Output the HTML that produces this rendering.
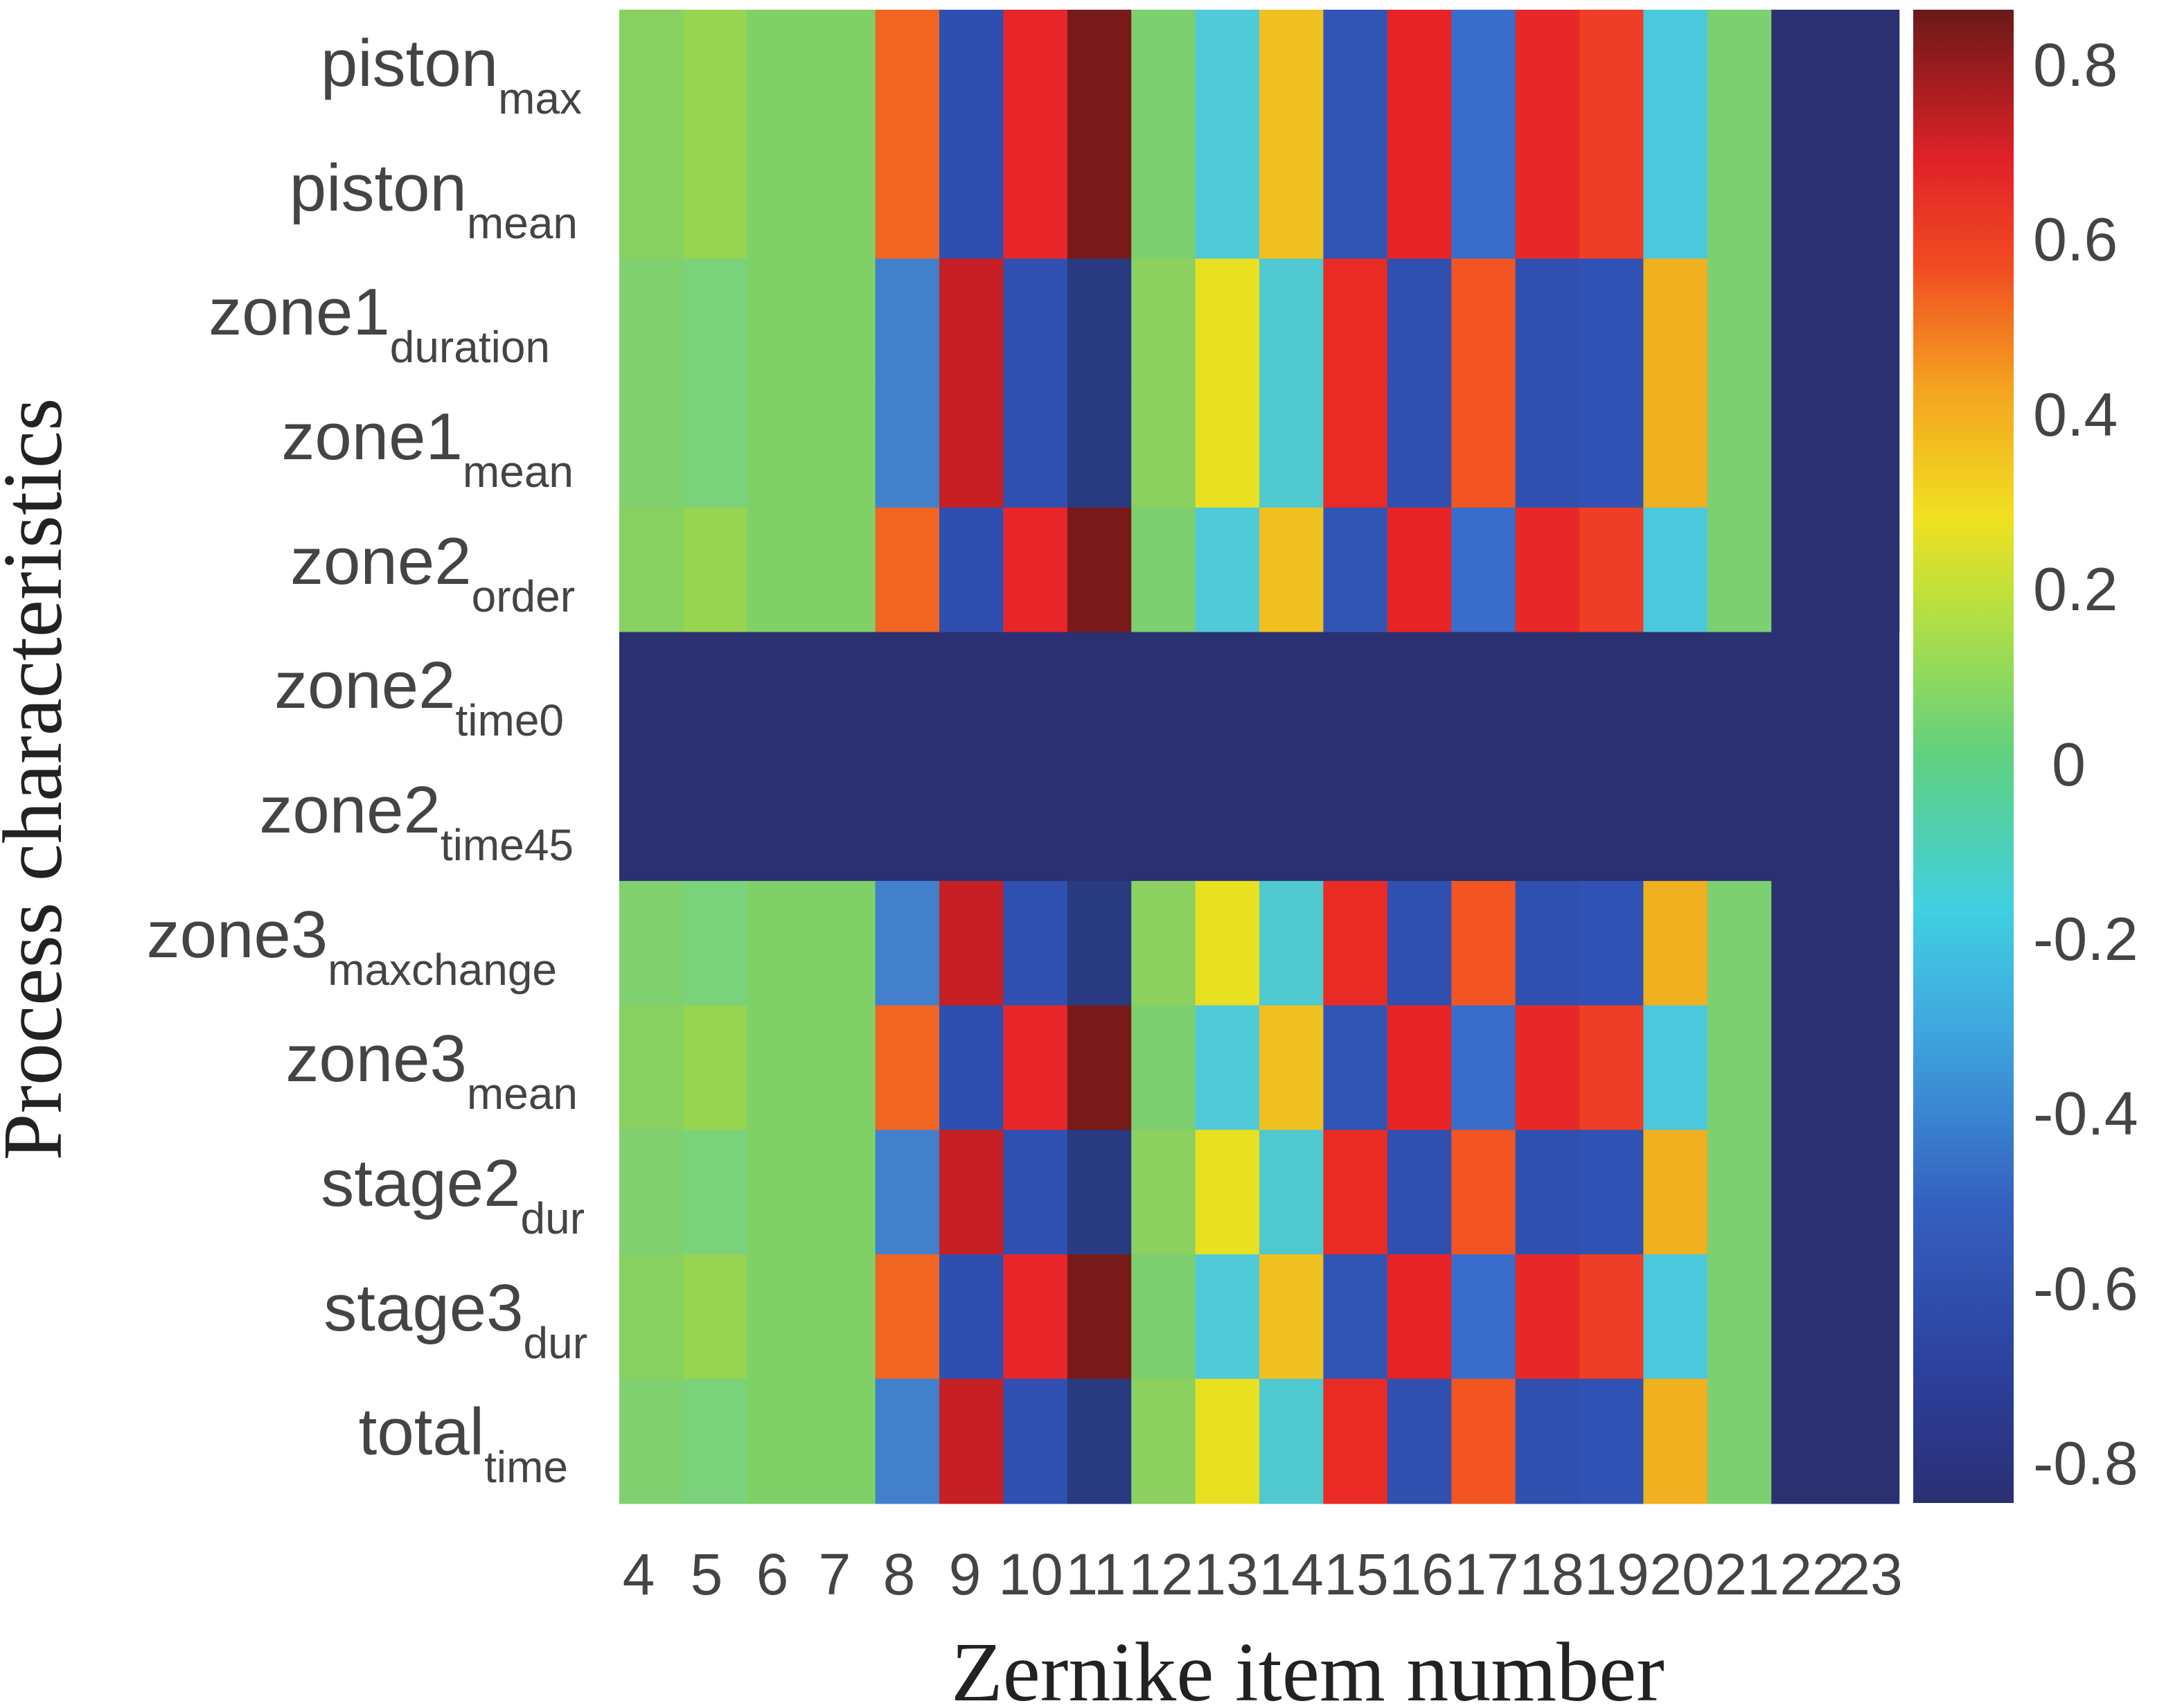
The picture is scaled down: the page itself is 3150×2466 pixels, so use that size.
<!DOCTYPE html>
<html><head><style>html,body{margin:0;padding:0;background:#fff}svg{display:block}</style></head><body>
<svg xmlns="http://www.w3.org/2000/svg" width="3150" height="2466" viewBox="0 0 3150 2466">
<defs>
<linearGradient id="jet" x1="0" y1="1" x2="0" y2="0">
<stop offset="0" stop-color="#2b2f72"/>
<stop offset="0.08" stop-color="#2c3e9a"/>
<stop offset="0.2" stop-color="#3560c0"/>
<stop offset="0.32" stop-color="#3fa8e0"/>
<stop offset="0.4" stop-color="#40d0e0"/>
<stop offset="0.5" stop-color="#60d080"/>
<stop offset="0.6" stop-color="#b8e040"/>
<stop offset="0.66" stop-color="#f0e020"/>
<stop offset="0.75" stop-color="#f5a020"/>
<stop offset="0.83" stop-color="#f04a22"/>
<stop offset="0.9" stop-color="#e02228"/>
<stop offset="1" stop-color="#6a1818"/>
</linearGradient>
<g id="rA">
<rect x="894" y="0" width="93.4" height="180.7" fill="#88d060"/>
<rect x="986.4" y="0" width="93.4" height="180.7" fill="#96d452"/>
<rect x="1078.8" y="0" width="93.4" height="180.7" fill="#80d068"/>
<rect x="1171.2" y="0" width="93.4" height="180.7" fill="#80d068"/>
<rect x="1263.6" y="0" width="93.4" height="180.7" fill="#f06522"/>
<rect x="1356" y="0" width="93.4" height="180.7" fill="#2f4fb0"/>
<rect x="1448.4" y="0" width="93.4" height="180.7" fill="#e8262a"/>
<rect x="1540.8" y="0" width="93.4" height="180.7" fill="#781a1a"/>
<rect x="1633.2" y="0" width="93.4" height="180.7" fill="#7cd070"/>
<rect x="1725.6" y="0" width="93.4" height="180.7" fill="#50cad8"/>
<rect x="1818" y="0" width="93.4" height="180.7" fill="#f0c020"/>
<rect x="1910.4" y="0" width="93.4" height="180.7" fill="#3155b5"/>
<rect x="2002.8" y="0" width="93.4" height="180.7" fill="#e82325"/>
<rect x="2095.2" y="0" width="93.4" height="180.7" fill="#3a6ccc"/>
<rect x="2187.6" y="0" width="93.4" height="180.7" fill="#e82828"/>
<rect x="2280" y="0" width="93.4" height="180.7" fill="#ee3e25"/>
<rect x="2372.4" y="0" width="93.4" height="180.7" fill="#4cc8dc"/>
<rect x="2464.8" y="0" width="93.4" height="180.7" fill="#7cd070"/>
<rect x="2557.2" y="0" width="185" height="180.7" fill="#2a3070"/>
</g>
<g id="rB">
<rect x="894" y="0" width="93.4" height="180.7" fill="#80d070"/>
<rect x="986.4" y="0" width="93.4" height="180.7" fill="#7ad27a"/>
<rect x="1078.8" y="0" width="93.4" height="180.7" fill="#80d068"/>
<rect x="1171.2" y="0" width="93.4" height="180.7" fill="#80d068"/>
<rect x="1263.6" y="0" width="93.4" height="180.7" fill="#4280cc"/>
<rect x="1356" y="0" width="93.4" height="180.7" fill="#c62025"/>
<rect x="1448.4" y="0" width="93.4" height="180.7" fill="#2f50b0"/>
<rect x="1540.8" y="0" width="93.4" height="180.7" fill="#283a80"/>
<rect x="1633.2" y="0" width="93.4" height="180.7" fill="#8cd060"/>
<rect x="1725.6" y="0" width="93.4" height="180.7" fill="#e8e020"/>
<rect x="1818" y="0" width="93.4" height="180.7" fill="#50c8d0"/>
<rect x="1910.4" y="0" width="93.4" height="180.7" fill="#ea2a25"/>
<rect x="2002.8" y="0" width="93.4" height="180.7" fill="#3050b0"/>
<rect x="2095.2" y="0" width="93.4" height="180.7" fill="#f25522"/>
<rect x="2187.6" y="0" width="93.4" height="180.7" fill="#3050b0"/>
<rect x="2280" y="0" width="93.4" height="180.7" fill="#3052b4"/>
<rect x="2372.4" y="0" width="93.4" height="180.7" fill="#f0b020"/>
<rect x="2464.8" y="0" width="93.4" height="180.7" fill="#7cd070"/>
<rect x="2557.2" y="0" width="185" height="180.7" fill="#2a3070"/>
</g>
</defs>
<use href="#rA" y="14"/>
<use href="#rA" y="193.7"/>
<use href="#rB" y="373.4"/>
<use href="#rB" y="553.1"/>
<use href="#rA" y="732.8"/>
<rect x="894" y="912.5" width="1848" height="360" fill="#2a3070"/>
<use href="#rB" y="1271.9"/>
<use href="#rA" y="1451.6"/>
<use href="#rB" y="1631.3"/>
<use href="#rA" y="1811"/>
<use href="#rB" y="1990.7"/>
<rect x="2762" y="14" width="145" height="2156" fill="url(#jet)"/>
<g font-family="Liberation Sans, sans-serif" font-size="88" fill="#444">
<text x="2935" y="124">0.8</text>
<text x="2935" y="376">0.6</text>
<text x="2935" y="629">0.4</text>
<text x="2935" y="881">0.2</text>
<text x="2962" y="1134">0</text>
<text x="2935" y="1386">-0.2</text>
<text x="2935" y="1638">-0.4</text>
<text x="2935" y="1891">-0.6</text>
<text x="2935" y="2143">-0.8</text>
</g>
<g font-family="Liberation Sans, sans-serif" fill="#444" font-size="96" text-anchor="end">
<text x="840" y="124">piston<tspan font-size="64" dy="40">max</tspan></text>
<text x="834" y="304">piston<tspan font-size="64" dy="40">mean</tspan></text>
<text x="794" y="483">zone1<tspan font-size="64" dy="40">duration</tspan></text>
<text x="828" y="663">zone1<tspan font-size="64" dy="40">mean</tspan></text>
<text x="830" y="843">zone2<tspan font-size="64" dy="40">order</tspan></text>
<text x="814" y="1022">zone2<tspan font-size="64" dy="40">time0</tspan></text>
<text x="828" y="1202">zone2<tspan font-size="64" dy="40">time45</tspan></text>
<text x="804" y="1382">zone3<tspan font-size="64" dy="40">maxchange</tspan></text>
<text x="834" y="1561">zone3<tspan font-size="64" dy="40">mean</tspan></text>
<text x="844" y="1741">stage2<tspan font-size="64" dy="40">dur</tspan></text>
<text x="848" y="1921">stage3<tspan font-size="64" dy="40">dur</tspan></text>
<text x="820" y="2100">total<tspan font-size="64" dy="40">time</tspan></text>
</g>
<g font-family="Liberation Sans, sans-serif" fill="#444" font-size="84" text-anchor="middle">
<text x="922" y="2302">4</text><text x="1020" y="2302">5</text><text x="1115" y="2302">6</text><text x="1205" y="2302">7</text>
<text x="1298" y="2302">8</text><text x="1393" y="2302">9</text><text x="1488" y="2302">10</text><text x="1582" y="2302">11</text>
<text x="1676" y="2302">12</text><text x="1770" y="2302">13</text><text x="1864" y="2302">14</text><text x="1958" y="2302">15</text>
<text x="2052" y="2302">16</text><text x="2146" y="2302">17</text><text x="2240" y="2302">18</text><text x="2334" y="2302">19</text>
<text x="2428" y="2302">20</text><text x="2522" y="2302">21</text><text x="2616" y="2302">22</text><text x="2700" y="2302">23</text>
</g>
<text x="60" y="1125" transform="rotate(-90 60 1125)" font-family="Liberation Serif, serif" font-size="122" fill="#222" text-anchor="middle" dominant-baseline="middle">Process characteristics</text>
<text x="1888" y="2455" font-family="Liberation Serif, serif" font-size="122" fill="#222" text-anchor="middle">Zernike item number</text>
</svg>
</body></html>
